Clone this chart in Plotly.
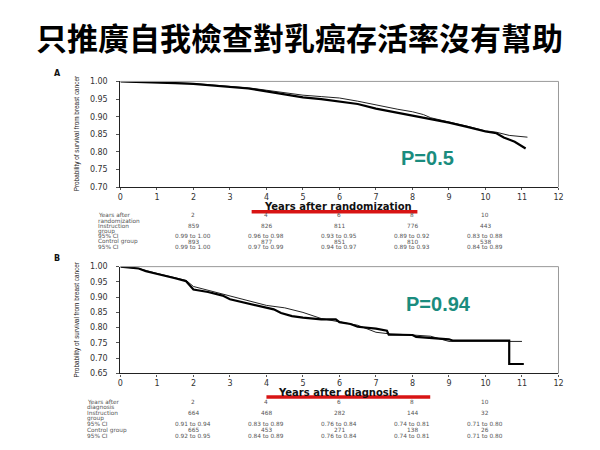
import plotly.graph_objects as go

W, H = 600, 450

# ---------------- data ----------------
title_text = "只推廣自我檢查對乳癌存活率沒有幫助"

# Panel A: years after randomization
a_int_t = [0, 0.5, 1, 1.5, 2, 2.5, 3, 3.5, 4, 4.5, 5, 5.5, 6, 6.5, 7, 7.45, 8, 8.5, 9, 9.5, 10, 10.3, 10.5, 10.8, 11.0, 11.1]
a_int_s = [1.0, 0.999, 0.997, 0.995, 0.993, 0.989, 0.984, 0.980, 0.972, 0.963, 0.955, 0.950, 0.944, 0.936, 0.923, 0.914, 0.905, 0.895, 0.883, 0.871, 0.858, 0.853, 0.841, 0.829, 0.815, 0.810]
a_ctl_t = [0, 0.5, 1, 1.5, 2, 2.5, 3, 3.5, 4, 4.5, 5, 5.5, 6, 6.5, 7, 7.6, 8, 8.3, 8.5, 9, 9.5, 10, 10.3, 10.65, 11.0, 11.15]
a_ctl_s = [1.0, 0.999, 0.998, 0.996, 0.994, 0.990, 0.986, 0.982, 0.975, 0.968, 0.961, 0.957, 0.953, 0.944, 0.933, 0.921, 0.914, 0.906, 0.897, 0.886, 0.873, 0.860, 0.856, 0.847, 0.842, 0.842]

# Panel B: years after diagnosis
b_int_t = [0, 0.5, 0.7, 1.0, 1.5, 1.8, 1.9, 2.0, 2.4, 2.8, 3.0, 3.5, 4.0, 4.2, 4.4, 4.7, 5.0, 5.5, 5.9, 6.0, 6.3, 6.5, 7.0, 7.3, 7.35, 8.0, 8.1, 9.0, 9.1, 10.65, 10.65, 11.05]
b_int_s = [1.0, 0.994, 0.985, 0.977, 0.962, 0.952, 0.940, 0.925, 0.917, 0.905, 0.893, 0.880, 0.866, 0.860, 0.848, 0.838, 0.833, 0.827, 0.827, 0.818, 0.812, 0.803, 0.797, 0.790, 0.777, 0.776, 0.770, 0.762, 0.758, 0.758, 0.681, 0.681]
b_ctl_t = [0, 0.5, 1.0, 1.5, 1.8, 2.0, 2.5, 3.0, 3.5, 4.0, 4.5, 5.0, 5.5, 6.0, 6.5, 7.0, 7.35, 8.0, 8.5, 9.0, 11.0]
b_ctl_s = [1.0, 0.994, 0.978, 0.965, 0.955, 0.935, 0.920, 0.903, 0.890, 0.873, 0.865, 0.850, 0.830, 0.820, 0.808, 0.785, 0.780, 0.776, 0.772, 0.755, 0.755]

x_ticks = list(range(0, 13))
a_y_ticks = [0.70, 0.75, 0.80, 0.85, 0.90, 0.95, 1.00]
b_y_ticks = [0.65, 0.70, 0.75, 0.80, 0.85, 0.90, 0.95, 1.00]

table_years = [2, 4, 6, 8, 10]
a_labels = ["Years after", "randomization", "Instruction", "group", "95% CI", "Control group", "95% CI"]
a_int_n = ["859", "826", "811", "776", "443"]
a_int_ci = ["0.99 to 1.00", "0.96 to 0.98", "0.93 to 0.95", "0.89 to 0.92", "0.83 to 0.88"]
a_ctl_n = ["893", "877", "851", "810", "538"]
a_ctl_ci = ["0.99 to 1.00", "0.97 to 0.99", "0.94 to 0.97", "0.89 to 0.93", "0.84 to 0.89"]

b_labels = ["Years after", "diagnosis", "Instruction", "group", "95% CI", "Control group", "95% CI"]
b_int_n = ["664", "468", "282", "144", "32"]
b_int_ci = ["0.91 to 0.94", "0.83 to 0.89", "0.76 to 0.84", "0.74 to 0.81", "0.71 to 0.80"]
b_ctl_n = ["665", "453", "271", "138", "26"]
b_ctl_ci = ["0.92 to 0.95", "0.84 to 0.89", "0.76 to 0.84", "0.74 to 0.81", "0.71 to 0.80"]

ylabel = "Probability of survival from breast cancer"
p_a = "P=0.5"
p_b = "P=0.94"

# ---------------- figure ----------------
def px(x):
    return x / W

def py(y):
    return 1 - y / H

fig = go.Figure()
fig.add_trace(go.Scatter(x=a_ctl_t, y=a_ctl_s, mode="lines", line=dict(color="#222", width=1), xaxis="x", yaxis="y", showlegend=False))
fig.add_trace(go.Scatter(x=a_int_t, y=a_int_s, mode="lines", line=dict(color="#000", width=2.2), xaxis="x", yaxis="y", showlegend=False))
fig.add_trace(go.Scatter(x=b_ctl_t, y=b_ctl_s, mode="lines", line=dict(color="#222", width=1), xaxis="x2", yaxis="y2", showlegend=False))
fig.add_trace(go.Scatter(x=b_int_t, y=b_int_s, mode="lines", line=dict(color="#000", width=2.2), xaxis="x2", yaxis="y2", showlegend=False))

tickfont = dict(family="DejaVu Sans", size=8, color="#333")
xcommon = dict(range=[0, 12], tickvals=x_ticks, showgrid=False, zeroline=False, showline=True,
               linecolor="#222", linewidth=1.2, ticks="outside", ticklen=2, tickcolor="#555",
               tickfont=tickfont, ticklabelstandoff=0)
ycommon = dict(showgrid=False, zeroline=False, showline=True, linecolor="#222", linewidth=1.2,
               ticks="outside", ticklen=3, tickcolor="#555", tickformat=".2f", tickfont=tickfont,
               ticklabelstandoff=7)

fig.update_layout(
    width=W, height=H, margin=dict(l=0, r=0, t=0, b=0),
    paper_bgcolor="white", plot_bgcolor="white",
    xaxis=dict(domain=[px(119), px(563)], anchor="y", **xcommon),
    yaxis=dict(domain=[py(187), py(79)], anchor="x", range=[0.70, 1.00], tickvals=a_y_ticks, **ycommon),
    xaxis2=dict(domain=[px(119), px(563)], anchor="y2", **xcommon),
    yaxis2=dict(domain=[py(377), py(268)], anchor="x2", range=[0.65, 1.00], tickvals=b_y_ticks, **ycommon),
)

shapes = []
for xd, yd in [("x domain", "y domain"), ("x2 domain", "y2 domain")]:
    shapes.append(dict(type="line", xref=xd, yref=yd, x0=0, x1=1, y0=1, y1=1, line=dict(color="#999", width=1)))
    shapes.append(dict(type="line", xref=xd, yref=yd, x0=1, x1=1, y0=0, y1=1, line=dict(color="#999", width=1)))
# red underlines
shapes.append(dict(type="line", xref="paper", yref="paper", x0=px(252), x1=px(420), y0=py(212), y1=py(212),
                   line=dict(color="#d81414", width=3.5)))
shapes.append(dict(type="line", xref="paper", yref="paper", x0=px(267), x1=px(433), y0=py(401), y1=py(401),
                   line=dict(color="#d81414", width=3.5)))
fig.update_layout(shapes=shapes)

ann = []
def text(x, y, s, size=7, color="#555", family="DejaVu Sans", xanchor="center", xref="paper", **kw):
    ann.append(dict(x=x if xref != "paper" else px(x), y=py(y), xref=xref, yref="paper", text=s,
                    showarrow=False, xanchor=xanchor, yanchor="middle", borderpad=0,
                    font=dict(size=size, color=color, family=family), **kw))

text(300, 33, "<b>" + title_text + "</b>", size=31, color="#000", family="Noto Sans CJK TC")
text(55, 71, "<b>A</b>", size=8, color="#111", family="DejaVu Sans")
text(55, 260, "<b>B</b>", size=8, color="#111", family="DejaVu Sans")
text(75, 132, ylabel, size=6.4, color="#222", family="Liberation Sans", textangle=-90)
text(75, 322, ylabel, size=6.4, color="#222", family="Liberation Sans", textangle=-90)
text(340, 206.5, "<b>Years after randomization</b>", size=10, color="#111", family="DejaVu Sans")
text(340, 396.5, "<b>Years after diagnosis</b>", size=10, color="#111", family="DejaVu Sans")
text(430, 157, "<b>" + p_a + "</b>", size=20, color="#1a8c7e", family="Liberation Sans")
text(441, 306, "<b>" + p_b + "</b>", size=20, color="#1a8c7e", family="Liberation Sans")

tsz = 5.8
# Table A
rows_a = [215.5, 221, 226.4, 231.8, 237, 242.4, 247.8]
for s, y in zip(a_labels, rows_a):
    text(95, y, s, size=tsz, xanchor="left")
for i, yr in enumerate(table_years):
    text(yr, rows_a[0], str(yr), size=tsz, xref="x")
    text(yr, rows_a[2], a_int_n[i], size=tsz, xref="x")
    text(yr, rows_a[4], a_int_ci[i], size=tsz, xref="x")
    text(yr, rows_a[5], a_ctl_n[i], size=tsz, xref="x")
    text(yr, rows_a[6], a_ctl_ci[i], size=tsz, xref="x")

# Table B
rows_b = [406, 411.6, 417.4, 423, 429, 435, 441]
for s, y in zip(b_labels, rows_b):
    text(84, y, s, size=tsz, xanchor="left")
for i, yr in enumerate(table_years):
    text(yr, rows_b[0], str(yr), size=tsz, xref="x2")
    text(yr, rows_b[2], b_int_n[i], size=tsz, xref="x2")
    text(yr, rows_b[4], b_int_ci[i], size=tsz, xref="x2")
    text(yr, rows_b[5], b_ctl_n[i], size=tsz, xref="x2")
    text(yr, rows_b[6], b_ctl_ci[i], size=tsz, xref="x2")

fig.update_layout(annotations=ann)
fig.write_html("out.html")
